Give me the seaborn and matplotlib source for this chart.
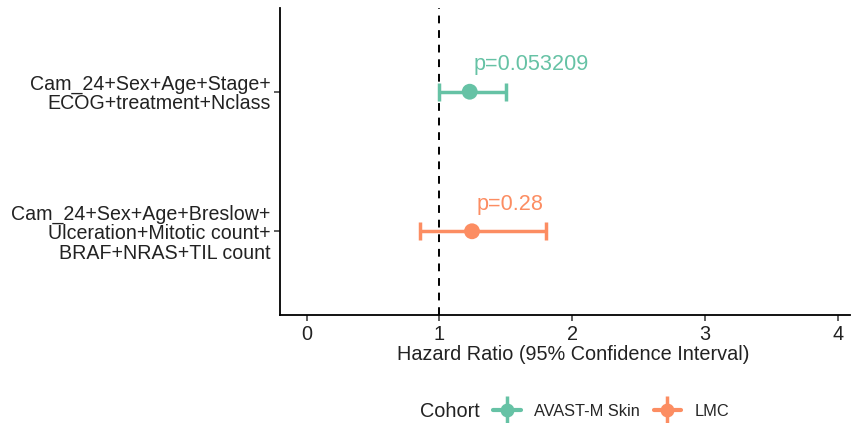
import matplotlib
matplotlib.use("Agg")
import matplotlib.pyplot as plt
from matplotlib.lines import Line2D
from matplotlib.legend_handler import HandlerTuple
import seaborn as sns
import pandas as pd

models = ["Cam_24+Sex+Age+Stage+\nECOG+treatment+Nclass",
          "Cam_24+Sex+Age+Breslow+\nUlceration+Mitotic count+\nBRAF+NRAS+TIL count"]
cohorts = ["AVAST-M Skin", "LMC"]
hr = [1.228, 1.245]
lower = [1.00, 0.85]
upper = [1.50, 1.80]
pvals = ["p=0.053209", "p=0.28"]
colors = ["#66C2A5", "#FC8D62"]
xticks = [0, 1, 2, 3, 4]

df = pd.DataFrame({"model": models, "cohort": cohorts, "hr": hr,
                   "lower": lower, "upper": upper, "p": pvals})

sns.set_theme(style="white")
plt.rcParams["font.family"] = ["Liberation Sans", "DejaVu Sans"]

fig = plt.figure(figsize=(8.54, 4.23), dpi=100)
ax = fig.add_axes([280/854, 1-315/423, (850-280)/854, (315-8)/423])

pal = dict(zip(cohorts, colors))
for _, r in df.iterrows():
    c = pal[r["cohort"]]
    ax.errorbar([r["hr"]], [r["model"]],
                xerr=[[r["hr"] - r["lower"]], [r["upper"] - r["hr"]]],
                fmt="none", ecolor=c, elinewidth=2.5, capsize=6.5, capthick=2.5, zorder=2)
sns.scatterplot(data=df, x="hr", y="model", hue="cohort", palette=pal,
                s=130, edgecolor="none", legend=False, ax=ax, zorder=3)
for _, r in df.iterrows():
    ax.annotate(r["p"], (r["hr"], r["model"]), xytext=(3, 12), textcoords="offset points",
                color=pal[r["cohort"]], fontsize=15.6, ha="left", va="bottom")

ax.axvline(1, color="black", linestyle=(0, (4, 3.5)), linewidth=1.4, zorder=1)

ax.set_xlim(-0.2, 4.09)
ax.set_ylim(1.6, -0.6)
ax.set_xticks(xticks)
ax.set_xticklabels([str(t) for t in xticks], fontsize=14.3, color="#222222")
ax.tick_params(axis="y", labelsize=14.1, labelcolor="#222222")
for lab in ax.get_yticklabels():
    lab.set_multialignment("right")
    lab.set_linespacing(1.05)
ax.set_xlabel("Hazard Ratio (95% Confidence Interval)", fontsize=14.3, color="#222222")
ax.xaxis.set_label_coords((573-280)/570, -0.098)
ax.set_ylabel("")
for s in ["top", "right"]:
    ax.spines[s].set_visible(False)
for s in ["left", "bottom"]:
    ax.spines[s].set_color("black")
    ax.spines[s].set_linewidth(1.3)
ax.tick_params(axis="both", which="both", direction="out", length=4, width=1.1,
               color="#333333", left=True, bottom=True, pad=3)

handles = []
for c in colors:
    h = (Line2D([], [], color=c, linewidth=3),
         Line2D([], [], color=c, marker="|", markersize=20, markeredgewidth=2.5, linestyle="none"),
         Line2D([], [], color=c, marker="o", markersize=9, linestyle="none"))
    handles.append(h)
fig.text(420/854, 1-411/423, "Cohort", fontsize=14.3, va="center", ha="left", color="#222222")
fig.legend(handles, cohorts, handler_map={tuple: HandlerTuple(ndivide=1)},
           loc="center left", bbox_to_anchor=(478/854, 1-411/423), ncol=2, frameon=False,
           fontsize=11.8, handlelength=1.7, columnspacing=0.85, handletextpad=0.8)

fig.savefig("out.png", dpi=100)
